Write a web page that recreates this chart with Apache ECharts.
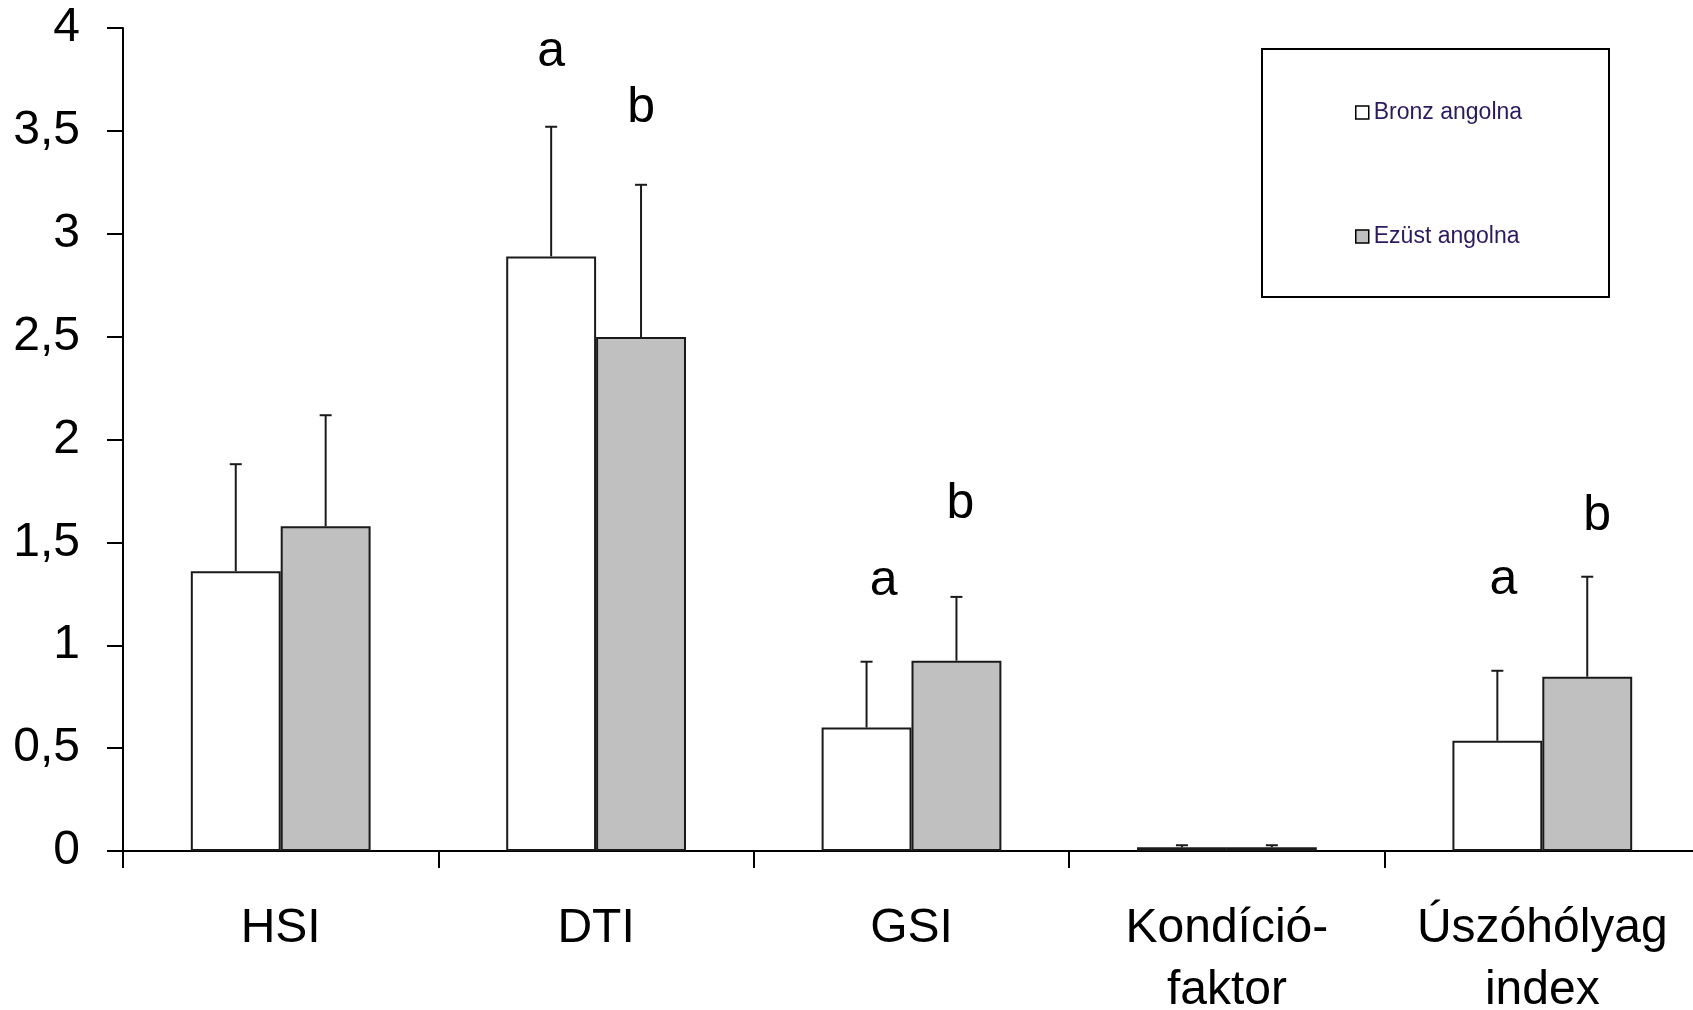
<!DOCTYPE html>
<html>
<head>
<meta charset="utf-8">
<script src="https://cdn.jsdelivr.net/npm/echarts@6/dist/echarts.min.js"></script>
<style>
html,body{margin:0;padding:0;background:#fff;}
#chart{width:1693px;height:1010px;}
</style>
</head>
<body>
<div id="chart"></div>
<script>
const categories = ['HSI', 'DTI', 'GSI', 'Kondíció-\nfaktor', 'Úszóhólyag\nindex'];
const seriesNames = ['Bronz angolna', 'Ezüst angolna'];
const bronzValues = [1.36, 2.89, 0.60, 0.018, 0.536];
const bronzErrors = [0.52, 0.63, 0.32, 0.010, 0.34];
const ezustValues = [1.578, 2.498, 0.925, 0.018, 0.847];
const ezustErrors = [0.54, 0.74, 0.31, 0.010, 0.486];
const bronzLetters = ['', 'a', 'a', '', 'a'];
const bronzLetterY = [null, 3.883, 1.312, null, 1.317];
const ezustLetters = ['', 'b', 'b', '', 'b'];
const ezustLetterY = [null, 3.608, 1.685, null, 1.628];
const yTicks = [0, 0.5, 1, 1.5, 2, 2.5, 3, 3.5, 4];

const FONT = "'Liberation Sans', Arial, sans-serif";
const BAR_FRAC = 0.285;
const LINE = '#1a1a1a';

function errorSeries(values, errors, side) {
  return {
    type: 'custom',
    silent: true,
    z: 5,
    data: values.map((v, i) => [i, v, errors[i]]),
    renderItem: function (params, api) {
      const i = api.value(0), v = api.value(1), e = api.value(2);
      const bw = api.size([1, 0])[0] * BAR_FRAC;
      const base = api.coord([i, v]);
      const top = api.coord([i, v + e]);
      const x = base[0] + side * bw / 2;
      return {
        type: 'group',
        children: [
          { type: 'line', shape: { x1: x, y1: base[1], x2: x, y2: top[1] }, style: { stroke: LINE, lineWidth: 2 } },
          { type: 'line', shape: { x1: x - 6, y1: top[1], x2: x + 6, y2: top[1] }, style: { stroke: LINE, lineWidth: 2 } }
        ]
      };
    }
  };
}

function letterSeries(letters, ys, side, dx) {
  return {
    type: 'custom',
    silent: true,
    z: 6,
    data: letters.map((l, i) => [i, ys[i] == null ? 0 : ys[i], l]),
    renderItem: function (params, api) {
      const idx = params.dataIndex;
      const txt = letters[idx];
      if (!txt) return null;
      const bw = api.size([1, 0])[0] * BAR_FRAC;
      const p = api.coord([api.value(0), api.value(1)]);
      return {
        type: 'text',
        style: {
          text: txt,
          x: p[0] + side * bw / 2 + (dx[idx] || 0),
          y: p[1],
          fill: '#000',
          font: '50px ' + FONT,
          align: 'center',
          verticalAlign: 'middle'
        }
      };
    }
  };
}

const chart = echarts.init(document.getElementById('chart'));
chart.setOption({
  backgroundColor: '#ffffff',
  animation: false,
  textStyle: { fontFamily: FONT },
  grid: { left: 123, top: 28, width: 1577, height: 823, containLabel: false, outerBoundsMode: 'none' },
  legend: {
    data: seriesNames,
    orient: 'vertical',
    left: 1350,
    top: 96,
    itemWidth: 13,
    itemHeight: 13,
    itemGap: 101,
    icon: 'rect',
    itemStyle: { borderColor: '#000', borderWidth: 1.5 },
    textStyle: { fontSize: 23, color: '#2c1a60', fontFamily: FONT }
  },
  graphic: [{
    type: 'rect',
    shape: { x: 1262, y: 49, width: 347, height: 248 },
    style: { fill: 'none', stroke: '#000', lineWidth: 2 },
    z: 10
  }],
  xAxis: {
    type: 'category',
    data: categories,
    boundaryGap: true,
    axisLine: { lineStyle: { color: '#000', width: 2 } },
    axisTick: { show: true, length: 17, alignWithLabel: false, interval: 0, lineStyle: { color: '#000', width: 2 } },
    axisLabel: { interval: 0, fontSize: 48, color: '#000', margin: 47, lineHeight: 62, verticalAlign: 'top', fontFamily: FONT },
    splitLine: { show: false }
  },
  yAxis: {
    type: 'value',
    min: 0,
    max: 4,
    interval: 0.5,
    axisLine: { show: true, lineStyle: { color: '#000', width: 2 } },
    axisTick: { show: true, length: 16, inside: false, lineStyle: { color: '#000', width: 2 } },
    axisLabel: {
      fontSize: 48, color: '#000', margin: 43, fontFamily: FONT, padding: [4, 0, 0, 0],
      formatter: v => yTicks.indexOf(v) >= 0 ? String(v).replace('.', ',') : ''
    },
    splitLine: { show: false }
  },
  series: [
    {
      name: seriesNames[0],
      type: 'bar',
      data: bronzValues,
      barWidth: (BAR_FRAC * 100) + '%',
      barGap: '0%',
      itemStyle: { color: '#ffffff', borderColor: LINE, borderWidth: 2 },
      z: 3
    },
    {
      name: seriesNames[1],
      type: 'bar',
      data: ezustValues,
      barWidth: (BAR_FRAC * 100) + '%',
      barGap: '0%',
      itemStyle: { color: '#c0c0c0', borderColor: LINE, borderWidth: 2 },
      z: 3
    },
    errorSeries(bronzValues, bronzErrors, -1),
    errorSeries(ezustValues, ezustErrors, 1),
    letterSeries(bronzLetters, bronzLetterY, -1, [0, 0, 17, 0, 6]),
    letterSeries(ezustLetters, ezustLetterY, 1, [0, 0, 4, 0, 10])
  ]
});
</script>
</body>
</html>
